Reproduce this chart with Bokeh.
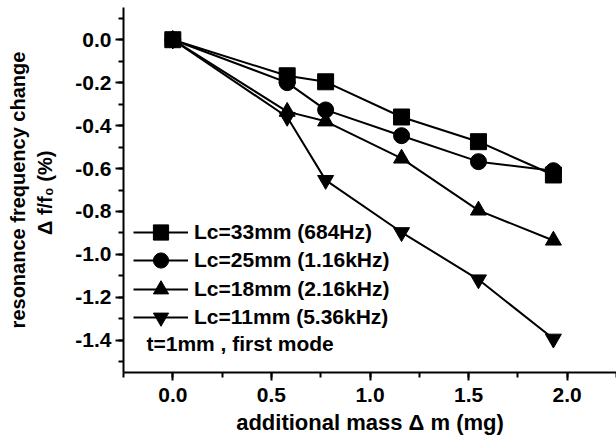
from bokeh.plotting import figure
from bokeh.embed import file_html
from bokeh.resources import INLINE
from bokeh.models import (Range1d, SingleIntervalTicker, PrintfTickFormatter,
                          Legend, LegendItem, Label, Title)

FONT = "Liberation Sans"

mass = [0.0, 0.58, 0.775, 1.16, 1.55, 1.93]
lc33 = [0.0, -0.168, -0.196, -0.36, -0.475, -0.63]
lc25 = [0.0, -0.20, -0.327, -0.447, -0.568, -0.61]
lc18 = [0.0, -0.335, -0.38, -0.553, -0.795, -0.935]
lc11 = [0.0, -0.36, -0.654, -0.897, -1.117, -1.393]

series_names = ["Lc=33mm (684Hz)", "Lc=25mm (1.16kHz)",
                "Lc=18mm (2.16kHz)", "Lc=11mm (5.36kHz)"]
series_markers = ["square", "circle", "triangle", "inverted_triangle"]
series_values = [lc33, lc25, lc18, lc11]
note_text = "t=1mm , first mode"

p = figure(width=616, height=445, output_backend="svg", toolbar_location=None,
           x_range=Range1d(-0.25, 2.25), y_range=Range1d(-1.55, 0.15),
           min_border_left=123, min_border_right=0, min_border_top=7,
           min_border_bottom=73)
p.outline_line_color = None
p.xgrid.visible = False
p.ygrid.visible = False
p.background_fill_color = "white"

items = []
for name, mk, vals in zip(series_names, series_markers, series_values):
    r1 = p.line(mass, vals, line_color="black", line_width=2)
    r2 = p.scatter(mass, vals, marker=mk, size=16, fill_color="black",
                   line_color="black")
    items.append(LegendItem(label=name, renderers=[r1, r2]))

p.xaxis.ticker = SingleIntervalTicker(interval=0.5, num_minor_ticks=2)
p.yaxis.ticker = SingleIntervalTicker(interval=0.2, num_minor_ticks=2)
p.xaxis.formatter = PrintfTickFormatter(format="%.1f")
p.yaxis.formatter = PrintfTickFormatter(format="%.1f")

for ax in (p.xaxis[0], p.yaxis[0]):
    ax.axis_line_width = 2
    ax.axis_line_color = "black"
    ax.major_tick_line_color = "black"
    ax.minor_tick_line_color = "black"
    ax.major_tick_line_width = 2
    ax.minor_tick_line_width = 2
    ax.major_tick_in = 0
    ax.minor_tick_in = 0
    ax.major_tick_out = 8
    ax.minor_tick_out = 5
    ax.major_label_text_font = FONT
    ax.major_label_text_font_style = "bold"
    ax.major_label_text_font_size = "21px"
    ax.major_label_text_color = "black"
    ax.axis_label_text_font = FONT
    ax.axis_label_text_font_style = "bold"
    ax.axis_label_text_color = "black"

p.xaxis.axis_label = "additional mass \u0394 m (mg)"
p.xaxis.axis_label_text_font_size = "22px"
p.xaxis.axis_label_standoff = 5
p.xaxis.major_label_standoff = 7
p.yaxis.axis_label = "\u0394 f/f\u2080  (%)"
p.yaxis.axis_label_text_font_size = "20px"
p.yaxis.axis_label_standoff = 16
p.yaxis.major_label_standoff = 4

t = Title(text="resonance frequency change", align="center",
          text_font=FONT, text_font_style="bold", text_font_size="20px",
          text_color="black", standoff=6)
p.add_layout(t, "left")

legend_kw = dict(border_line_color=None, background_fill_alpha=0,
                 padding=0, margin=0, glyph_width=55, glyph_height=38,
                 spacing=19, label_text_font=FONT,
                 label_text_font_style="bold", label_text_font_size="21px",
                 label_text_color="black", label_standoff=6)
legend_a = Legend(items=[items[0], items[2]], location=(10, 64), **legend_kw)
legend_b = Legend(items=[items[1], items[3]], location=(10, 36), **legend_kw)
p.add_layout(legend_a, "center")
p.add_layout(legend_b, "center")

note = Label(x=23, y=29, x_units="screen", y_units="screen", text=note_text,
             text_font=FONT, text_font_style="bold", text_font_size="21px",
             text_color="black", text_baseline="middle")
p.add_layout(note)

open("out.html", "w").write(file_html(p, INLINE))
